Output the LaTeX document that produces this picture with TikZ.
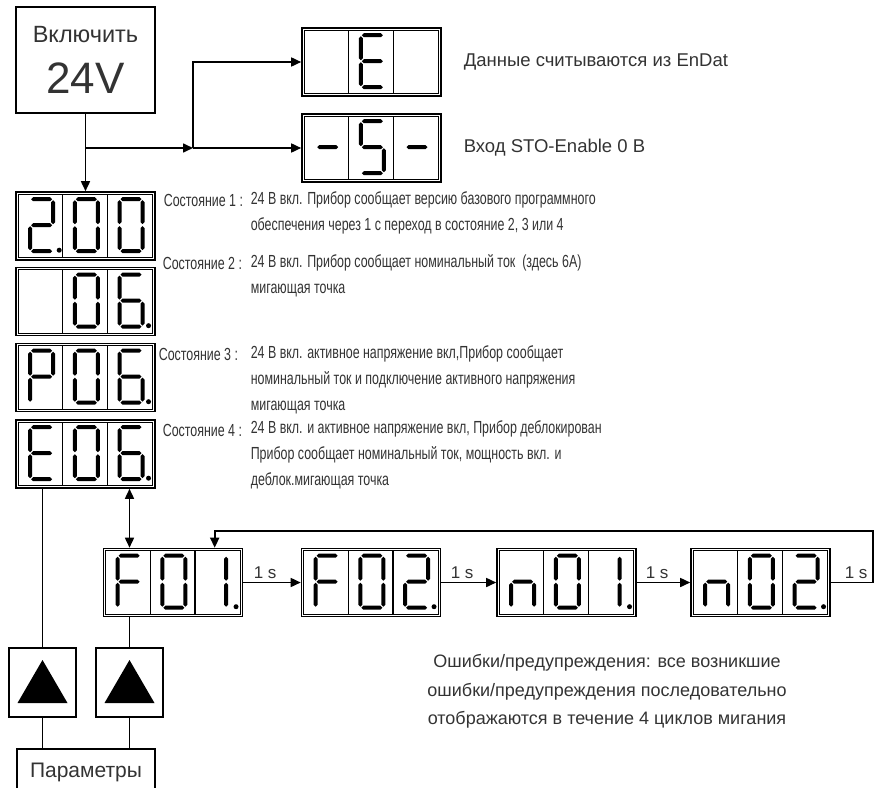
\documentclass[tikz,border=0pt]{standalone}
\usepackage{fontspec}
\setmainfont{Liberation Sans}
\newfontfamily\narrowfont{Liberation Sans}[FakeStretch=0.71]
\usepackage{tikz}
\usetikzlibrary{arrows.meta, calc}
\definecolor{txtgray}{HTML}{333333}

% seven segment pieces, y grows downward
\newcommand{\hseg}[3]{\fill (#1,#3) -- (#1+2,#3-2) -- (#2-2,#3-2) -- (#2,#3) -- (#2-2,#3+2) -- (#1+2,#3+2) -- cycle;}
\newcommand{\vseg}[3]{\fill (#1,#2) -- (#1+2,#2+2) -- (#1+2,#3-2) -- (#1,#3) -- (#1-2,#3-2) -- (#1-2,#2+2) -- cycle;}
\newcommand{\sgma}{\hseg{13}{34}{8}}
\newcommand{\sgmb}{\vseg{35}{9}{33}}
\newcommand{\sgmc}{\vseg{35}{35}{59}}
\newcommand{\sgmd}{\hseg{13}{34}{60}}
\newcommand{\sgme}{\vseg{12}{35}{59}}
\newcommand{\sgmf}{\vseg{12}{9}{33}}
\newcommand{\sgmg}{\hseg{13}{34}{34}}
\newcommand{\sgmh}{\vseg{31}{9}{33}}
\newcommand{\sgmj}{\vseg{31}{35}{59}}

\newcommand{\segcell}[4]{%
  \begin{scope}[shift={($(#1.north west)+(44.67*#2-41.67,0)$)}]
    \foreach \s in {#3} {\csname sgm\s\endcsname}
    \ifnum#2=#4 \fill (41,59) circle (2.5); \fi
  \end{scope}}
\newcommand{\segdisp}[6]{%
  \node[segbox] (#1) at (#2) {};
  \draw[line width=1.1pt] ($(#1.north west)+(3,3)$) rectangle ($(#1.south east)+(-3,-3)$);
  \foreach \k in {1,2}
    \draw[line width=1.1pt] ($(#1.north west)+(3+44.67*\k,3)$) -- ($(#1.south west)+(3+44.67*\k,-3)$);
  \segcell{#1}{1}{#3}{#6}
  \segcell{#1}{2}{#4}{#6}
  \segcell{#1}{3}{#5}{#6}}

\begin{document}
\begin{tikzpicture}[x=1pt, y=-1pt, line width=1.6pt,
  segbox/.style={draw, line width=1.6pt, minimum width=139pt, minimum height=68pt, inner sep=0pt},
  keybox/.style={draw, line width=1.6pt, minimum width=67pt, minimum height=69pt, inner sep=0pt},
  flow/.style={-{Triangle[length=10pt,width=9pt]}},
  note/.style={anchor=west, text=txtgray, inner sep=0pt, font=\fontsize{18.5}{21}\selectfont},
  statelbl/.style={anchor=west, text=txtgray, inner sep=0pt, font=\narrowfont\fontsize{17.5}{19}\selectfont},
  statetxt/.style={anchor=west, text=txtgray, inner sep=0pt, align=left, font=\narrowfont\fontsize{17.5}{26}\selectfont},
  tlabel/.style={above, text=txtgray, inner sep=3pt, font=\fontsize{17}{19}\selectfont}]
\clip (0,0) rectangle (875,787);

\node[draw, minimum width=139pt, minimum height=106pt, align=center, text=txtgray] (sw) at (85.5,60)
  {\fontsize{23.5}{30}\selectfont Включить\\[19pt]\fontsize{44}{30}\selectfont 24V};

\segdisp{dE}{371.5,62}{}{a,f,g,e,d}{}{0}
\segdisp{dS}{371.5,148}{g}{a,f,g,c,d}{g}{0}
\node[note] (enc) at (463,62) {Данные считываются из EnDat};
\node[note] (sto) at (463,148) {Вход STO-Enable 0 В};

\segdisp{d1}{85.5,226}{a,b,g,e,d}{a,b,c,d,e,f}{a,b,c,d,e,f}{1}
\segdisp{d2}{85.5,301.5}{}{a,b,c,d,e,f}{a,f,g,e,c,d}{3}
\segdisp{d3}{85.5,377.5}{a,b,f,g,e}{a,b,c,d,e,f}{a,f,g,e,c,d}{3}
\segdisp{d4}{85.5,454}{a,f,g,e,d}{a,b,c,d,e,f}{a,f,g,e,c,d}{3}

\node[statelbl] (s1) at (163,200) {Состояние 1 :};
\node[statetxt] (t1) at (250,213) {24 В вкл. Прибор сообщает версию базового программного\\обеспечения через 1 с переход в состояние 2, 3 или 4};
\node[statelbl] (s2) at (162,263) {Состояние 2 :};
\node[statetxt] (t2) at (250,276) {24 В вкл. Прибор сообщает номинальный ток \ (здесь 6А)\\мигающая точка};
\node[statelbl] (s3) at (158,354) {Состояние 3 :};
\node[statetxt] (t3) at (250,380) {24 В вкл. активное напряжение вкл,Прибор сообщает\\номинальный ток и подключение активного напряжения\\мигающая точка};
\node[statelbl] (s4) at (162,430) {Состояние 4 :};
\node[statetxt] (t4) at (250,455) {24 В вкл. и активное напряжение вкл, Прибор деблокирован\\Прибор сообщает номинальный ток, мощность вкл. и\\деблок.мигающая точка};

\segdisp{f1}{173,582.5}{a,f,g,e}{a,b,c,d,e,f}{h,j}{3}
\segdisp{f2}{371,582.5}{a,f,g,e}{a,b,c,d,e,f}{a,b,g,e,d}{3}
\segdisp{n1}{566.5,582.5}{g,e,c}{a,b,c,d,e,f}{h,j}{3}
\segdisp{n2}{760.5,582.5}{g,e,c}{a,b,c,d,e,f}{a,b,g,e,d}{3}

\node[anchor=center, align=center, text=txtgray, font=\fontsize{18}{28.5}\selectfont] (err) at (607,691.5)
  {Ошибки/предупреждения: все возникшие\\ошибки/предупреждения последовательно\\отображаются в течение 4 циклов мигания};

\node[keybox] (btn1) at (42.5,682.5) {};
\node[keybox] (btn2) at (129.5,682.5) {};
\foreach \b in {btn1,btn2}
  \fill ($(\b.center)+(0,-22.5)$) -- ($(\b.center)+(25,20.5)$) -- ($(\b.center)+(-25,20.5)$) -- cycle;
\node[draw, minimum width=138pt, minimum height=46pt, text=txtgray, font=\fontsize{21}{23}\selectfont] (par) at (86,772) {Параметры};

% power on
\coordinate (br) at (85.5,148);
\coordinate (mid) at (193,148);
\draw[flow] (sw.south) -- (d1.north);
\draw[flow] (br) -- (mid);
\draw[flow] (mid) -- (dS.west);
\draw[flow] (mid) |- (dE.west);

% keys
\draw (btn1.north |- d4.south) -- (btn1.north);
\draw[{Triangle[length=10pt,width=9pt]}-{Triangle[length=10pt,width=9pt]}] (btn2.north |- d4.south) -- (btn2.north |- f1.north);
\draw (btn2.north |- f1.south) -- (btn2.north);
\draw (btn1.south) -- (btn1.south |- par.north);
\draw (btn2.south) -- (btn2.south |- par.north);

% error loop
\draw[flow] (f1.east) -- node[tlabel, pos=0.38] {1 s} (f2.west);
\draw[flow] (f2.east) -- node[tlabel, pos=0.38] {1 s} (n1.west);
\draw[flow] (n1.east) -- node[tlabel, pos=0.38] {1 s} (n2.west);
\coordinate (lp) at (873,531);
\coordinate (ret) at ($(f1.north west)+(112,0)$);
\draw[flow] (n2.east) -- node[tlabel, pos=0.6] {1 s} (n2.east -| lp) -- (lp) -| (ret);
\end{tikzpicture}
\end{document}
